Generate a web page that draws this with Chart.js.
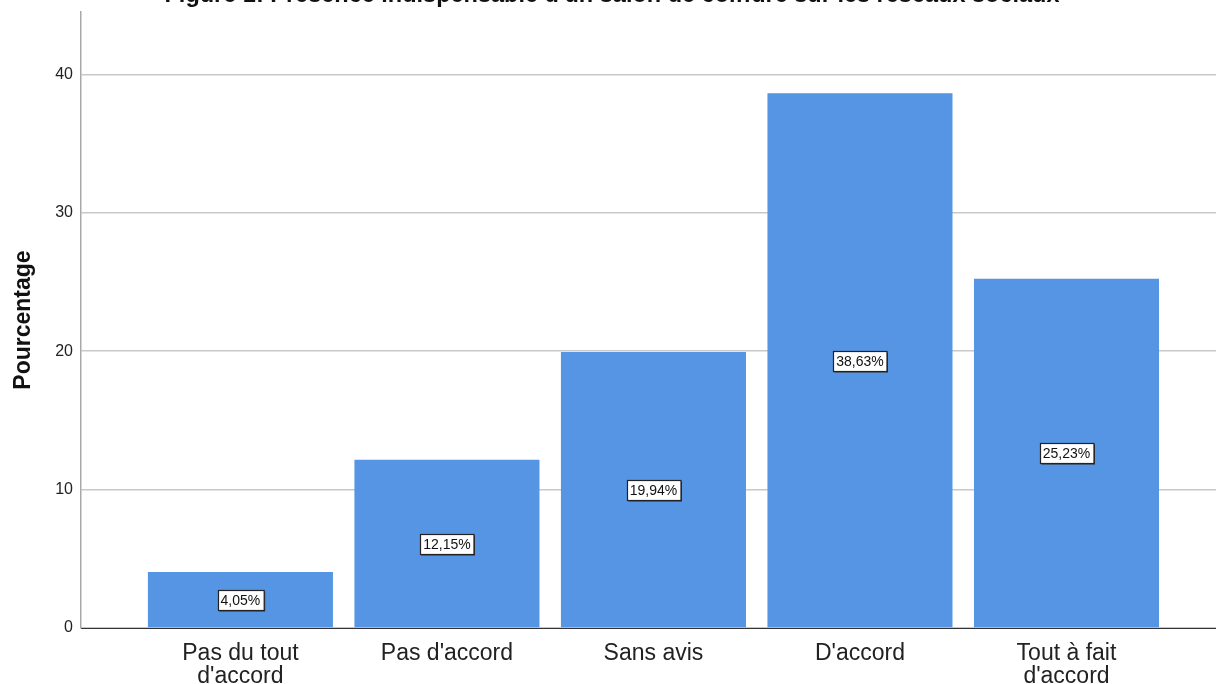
<!DOCTYPE html>
<html>
<head>
<meta charset="utf-8">
<script src="https://cdn.jsdelivr.net/npm/chart.js@4.4.1/dist/chart.umd.min.js"></script>
<style>
  html, body { margin: 0; padding: 0; background: #fff; }
  #wrap { width: 1216px; height: 684px; }
</style>
</head>
<body>
<div id="wrap"><canvas id="chart" width="1216" height="684"></canvas></div>
<script>
const title = "Figure 1: Présence indispensable d'un salon de coiffure sur les réseaux sociaux";
const categories = [
  ['Pas du tout', "d'accord"],
  ["Pas d'accord"],
  ['Sans avis'],
  ["D'accord"],
  ['Tout à fait', "d'accord"]
];
const percentages = [4.05, 12.15, 19.94, 38.63, 25.23];
const yTicks = [0, 10, 20, 30, 40];

const FONT = '"Liberation Sans", Arial, sans-serif';

// title sits partly above the canvas top, as in the exported figure
const titlePlugin = {
  id: 'topTitle',
  afterDraw(chart) {
    const ctx = chart.ctx;
    ctx.save();
    ctx.font = 'bold 23.5px ' + FONT;
    ctx.fillStyle = '#111';
    ctx.textAlign = 'center';
    ctx.textBaseline = 'alphabetic';
    ctx.fillText(title, 612, 2);
    ctx.restore();
  }
};

// boxed value labels in the middle of each bar
const valueLabels = {
  id: 'valueLabels',
  afterDatasetsDraw(chart) {
    const ctx = chart.ctx;
    const meta = chart.getDatasetMeta(0);
    const yScale = chart.scales.y;
    ctx.save();
    ctx.font = '14px ' + FONT;
    ctx.textAlign = 'center';
    ctx.textBaseline = 'middle';
    meta.data.forEach((bar, i) => {
      const v = percentages[i];
      const text = v.toFixed(2).replace('.', ',') + '%';
      const x = bar.x;
      const y = yScale.getPixelForValue(v / 2);
      const w = ctx.measureText(text).width + 6;
      const h = 20;
      const left = Math.round(x - w / 2) + 0.5;
      const top = Math.round(y - h / 2) + 0.5;
      ctx.fillStyle = '#333';
      ctx.fillRect(left + 1, top + 1, w, h);
      ctx.fillStyle = '#fff';
      ctx.fillRect(left, top, w, h);
      ctx.strokeStyle = '#222';
      ctx.lineWidth = 1.2;
      ctx.strokeRect(left, top, w, h);
      ctx.fillStyle = '#111';
      ctx.fillText(text, x, top + h / 2 + 0.5);
    });
    ctx.restore();
  }
};

new Chart(document.getElementById('chart'), {
  type: 'bar',
  data: {
    datasets: [{
      data: percentages.map((v, i) => ({ x: i, y: v })),
      backgroundColor: 'rgb(85, 149, 227)',
      borderWidth: 0,
      categoryPercentage: 1,
      barPercentage: 0.896
    }]
  },
  options: {
    responsive: false,
    animation: false,
    layout: { padding: { top: 12, left: 0, right: 0, bottom: 0 } },
    plugins: {
      legend: { display: false },
      tooltip: { enabled: false }
    },
    scales: {
      x: {
        type: 'linear',
        offset: false,
        min: -0.772,
        max: 4.724,
        afterBuildTicks: (scale) => {
          scale.ticks = categories.map((c, i) => ({ value: i }));
        },
        afterFit: (scale) => { scale.height = 56; },
        grid: { display: false, drawTicks: false },
        border: { display: true, color: '#333', width: 1 },
        ticks: {
          padding: 14,
          maxRotation: 0,
          autoSkip: false,
          color: '#222',
          font: { family: FONT, size: 23, lineHeight: 1.0 },
          callback: (value) => categories[value]
        }
      },
      y: {
        min: 0,
        max: 44.5,
        afterBuildTicks: (scale) => {
          scale.ticks = yTicks.map(v => ({ value: v }));
        },
        afterFit: (scale) => {
          scale.width = 81;
          scale.paddingTop = 0;
          scale.paddingBottom = 0;
        },
        grid: { color: '#c8c8c8', lineWidth: 1.5, drawTicks: false },
        border: { display: true, color: '#a8a8a8', width: 1.5 },
        ticks: {
          padding: 8,
          color: '#222',
          font: { family: FONT, size: 16 }
        },
        title: {
          display: true,
          text: 'Pourcentage',
          color: '#111',
          font: { family: FONT, size: 23, weight: 'bold' },
          padding: { top: 10, bottom: 0 }
        }
      }
    }
  },
  plugins: [valueLabels, titlePlugin]
});
</script>
</body>
</html>
